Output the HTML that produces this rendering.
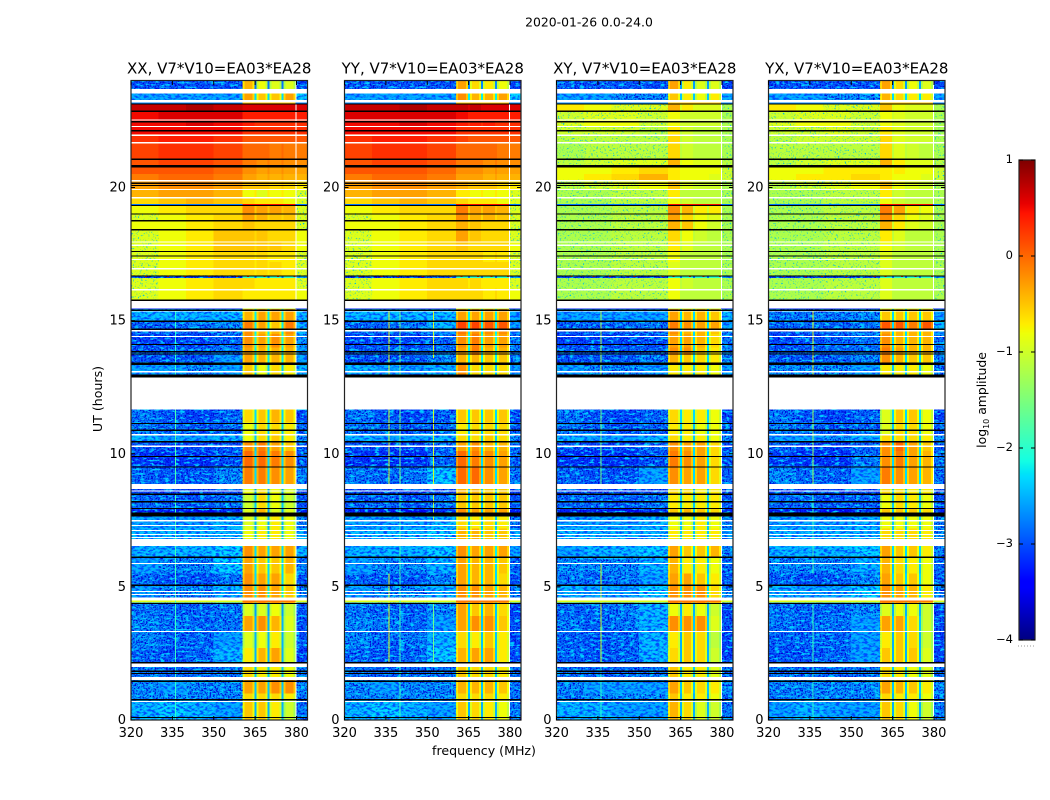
<!DOCTYPE html>
<html>
<head>
<meta charset="utf-8">
<title>2020-01-26 0.0-24.0</title>
<style>
html,body{margin:0;padding:0;background:#fff;width:1050px;height:800px;overflow:hidden}
svg{display:block}
text{font-family:"DejaVu Sans","Liberation Sans",sans-serif;fill:#000}
</style>
</head>
<body>
<svg id="chart" xmlns="http://www.w3.org/2000/svg" width="1050" height="800" viewBox="0 0 1050 800">
  <defs>
    <filter id="darkSpeck" x="0" y="0" width="100%" height="100%" color-interpolation-filters="sRGB">
      <feTurbulence type="fractalNoise" baseFrequency="0.6" numOctaves="2" seed="4" result="n"/>
      <feColorMatrix in="n" type="matrix" values="0 0 0 0 0  0 0 0 0 0  0 0 0 0 0.85  4.5 0 0 0 -2.0" result="c"/>
      <feComposite in="c" in2="SourceAlpha" operator="in"/>
    </filter>
    <filter id="lightSpeck" x="0" y="0" width="100%" height="100%" color-interpolation-filters="sRGB">
      <feTurbulence type="fractalNoise" baseFrequency="0.2 0.45" numOctaves="3" seed="11" result="n"/>
      <feColorMatrix in="n" type="matrix" values="0 0 0 0 0  0 0 0 0 0.8  0 0 0 0 1  5 0 0 0 -2.6" result="c"/>
      <feComposite in="c" in2="SourceAlpha" operator="in"/>
    </filter>
    <filter id="softSpeck" x="0" y="0" width="100%" height="100%" color-interpolation-filters="sRGB">
      <feTurbulence type="fractalNoise" baseFrequency="0.25 0.5" numOctaves="2" seed="21" result="n"/>
      <feColorMatrix in="n" type="matrix" values="0 0 0 0 0  0 0 0 0 0.3  0 0 0 0 1  4.5 0 0 0 -2.0" result="c"/>
      <feComposite in="c" in2="SourceAlpha" operator="in"/>
    </filter>
    <filter id="sparseSpeck" x="0" y="0" width="100%" height="100%" color-interpolation-filters="sRGB">
      <feTurbulence type="fractalNoise" baseFrequency="0.6" numOctaves="2" seed="7" result="n"/>
      <feColorMatrix in="n" type="matrix" values="0 0 0 0 0  0 0 0 0 0.75  0 0 0 0 0.9  6 0 0 0 -3.6" result="c"/>
      <feComposite in="c" in2="SourceAlpha" operator="in"/>
    </filter>
  </defs>
  <text x="589" y="26.5" font-size="12.4" text-anchor="middle">2020-01-26 0.0-24.0</text>
  <text transform="translate(102,399) rotate(-90)" font-size="12.6" text-anchor="middle">UT (hours)</text>
  <text x="484" y="755" font-size="12.6" text-anchor="middle">frequency (MHz)</text>
  <text transform="translate(986,400) rotate(-90)" font-size="12.4" text-anchor="middle">log<tspan font-size="8" dy="3">10</tspan><tspan dy="-3"> amplitude</tspan></text>
  <g id="panels"></g>
  <g id="cbar"></g>
</svg>
<script>
// Time rows (UT hours, top to bottom); each panel has one row of values per span.
const rowEdges = [24,23.53,23.19,22.89,22.56,22.31,22.01,21.7,21.08,20.84,20.5,20.29,19.95,19.64,19.35,19.03,18.77,18.44,17.98,17.62,17.2,16.7,16.6,16.2,15.76,15.46,15,14.7,14.5,14,13.7,13.4,12.95,11.67,11.17,10.72,10.47,10.1,9.53,8.87,8.5,7.97,7.65,7.2,6.53,6.14,5.5,5.09,4.4,3.9,3.34,2.7,2.16,1.5,1,0.79,0];
// Frequency bands in MHz, in the order of each row's values (value index per band).
const bandStart = [320,330,340,350,360.5,365.5,370.2,375.3,380];
const bandEnd   = [330,340,350,360.5,364.7,369.5,374.6,379.7,384];
const bandIndex = [0,1,2,3,4,5,6,7,9];
// Narrow dips between the four bright blocks, MHz; they use a row's 9th value.
const gapStart = [364.7,369.5,374.6];
const gapEnd   = [365.5,370.2,375.3];
// Values: log10 amplitude x 10, as [L1,L2,L3,L4,B1,B2,B3,B4,Gap,Tail].
const xxRows = [
[-29,-29,-29,-29,-4,-8,-9,-9,-20,-30],[-25,-25,-25,-25,-3,-5,-5,-3,-15,-23],[7,7,8,7,6,6,6,6,6,6],[5,6,6,6,4,4,4,4,4,4],[5,5,6,5,4,3,3,3,3,3],[5,5,5,5,3,3,3,3,3,3],[3,4,4,3,1,1,1,1,1,1],[2,3,3,2,0,0,-1,-1,0,-1],[1,2,2,1,-1,-2,-2,-2,-1,-2],[1,1,1,0,-2,-3,-3,-3,-2,-3],[-1,0,0,-1,-3,-4,-4,-4,-3,-4],[-3,-2,-2,-3,-5,-5,-6,-6,-5,-7],[-4,-3,-3,-4,-8,-9,-8,-8,-7,-9],[-6,-5,-4,-5,-6,-7,-7,-8,-7,-9],
[-8,-7,-6,-6,-2,-3,-3,-4,-5,-9],[-9,-8,-7,-6,-3,-4,-5,-5,-6,-9],[-8,-8,-7,-6,-5,-6,-6,-6,-6,-9],[-9,-8,-7,-5,-5,-5,-6,-6,-6,-8],[-9,-8,-7,-5,-5,-5,-5,-6,-6,-8],[-9,-8,-7,-6,-6,-6,-7,-7,-7,-9],[-9,-8,-7,-6,-6,-6,-6,-7,-7,-9],[-30,-30,-30,-30,-20,-20,-20,-20,-20,-25],[-9,-8,-7,-6,-6,-7,-7,-7,-7,-9],[-9,-8,-7,-6,-7,-7,-7,-7,-7,-8],[-28,-28,-28,-28,-28,-28,-28,-28,-28,-28],
[-24,-24,-24,-24,-4,-3,-3,-3,-14,-24],[-28,-28,-27,-26,-1,-3,-5,-1,-14,-24],[-28,-28,-28,-26,-2,-4,-4,-2,-14,-24],[-30,-30,-30,-28,-2,-3,-2,-3,-13,-26],[-28,-28,-28,-27,-3,-4,-4,-4,-14,-25],[-29,-29,-29,-25,-3,-4,-4,-4,-14,-25],[-25,-25,-26,-25,-5,-8,-6,-7,-16,-24],[null,null,null,null,null,null,null,null,null,null],
[-27,-29,-30,-28,-6,-5,-4,-5,-15,-30],[-27,-28,-29,-28,-8,-6,-6,-7,-16,-28],[-24,-25,-25,-24,-8,-6,-5,-7,-16,-26],[-29,-30,-30,-29,-2,-1,-3,-5,-16,-29],[-31,-31,-31,-29,0,0,-1,-2,-15,-29],[-28,-29,-29,-26,-1,-1,-2,-3,-15,-27],[-30,-30,-30,-30,-8,-6,-8,-9,-18,-30],[-28,-28,-29,-27,-10,-6,-8,-10,-16,-29],[-32,-32,-33,-31,-9,-4,-9,-9,-18,-32],[-25,-25,-25,-24,-9,-8,-7,-8,-17,-26],[-24,-24,-24,-24,-8,-7,-7,-8,-16,-24],
[-24,-24,-24,-23,-2,-3,-3,-3,-15,-24],[-25,-26,-26,-23,-3,-5,-5,-4,-15,-27],[-28,-29,-29,-27,-2,-3,-3,-6,-15,-29],[-25,-26,-26,-24,-2,-2,-3,-5,-14,-26],[-27,-28,-28,-27,-9,-9,-8,-10,-18,-29],[-26,-27,-28,-27,-3,-2,-4,-9,-17,-29],[-26,-28,-28,-25,-9,-8,-7,-10,-17,-29],[-28,-29,-28,-24,-7,-4,-3,-9,-17,-30],[-27,-28,-28,-27,-6,-7,-7,-8,-16,-27],[-26,-25,-26,-26,-3,-3,-2,-2,-16,-26],[-26,-26,-26,-26,-6,-6,-6,-7,-17,-27],[-24,-23,-24,-25,-5,-5,-7,-10,-17,-27]
];
const yyRows = [
[-29,-29,-29,-29,-3,-6,-7,-8,-19,-30],[-25,-25,-25,-25,-2,-4,-4,-3,-14,-23],[7,7,8,7,7,7,6,6,6,6],[6,6,6,6,5,4,4,4,4,4],[5,5,6,5,4,4,4,3,3,3],[5,5,5,5,3,3,3,3,3,3],[3,4,4,3,2,1,1,1,1,1],[2,3,3,2,0,0,0,-1,0,-1],[1,2,2,1,-1,-1,-2,-2,-1,-2],[1,1,1,0,-2,-2,-3,-3,-2,-3],[-1,0,0,-1,-3,-3,-4,-4,-3,-4],[-3,-2,-2,-3,-4,-5,-5,-6,-5,-7],[-4,-3,-3,-4,-7,-8,-8,-8,-7,-9],[-6,-5,-4,-5,-6,-7,-7,-8,-7,-9],
[-8,-7,-6,-6,-1,-3,-3,-4,-5,-9],[-9,-8,-7,-6,-2,-4,-4,-5,-6,-9],[-8,-8,-7,-6,-4,-5,-6,-6,-6,-9],[-9,-8,-7,-6,-3,-5,-6,-6,-6,-9],[-9,-8,-7,-6,-5,-6,-6,-6,-6,-8],[-9,-8,-7,-6,-6,-6,-7,-7,-6,-9],[-9,-8,-7,-6,-6,-6,-6,-6,-6,-9],[-30,-30,-30,-30,-20,-20,-20,-20,-20,-25],[-9,-8,-7,-6,-6,-6,-7,-7,-7,-9],[-9,-8,-7,-6,-6,-6,-7,-7,-6,-8],[-28,-28,-28,-28,-28,-28,-28,-28,-28,-28],
[-24,-24,-24,-24,-3,-3,-3,-3,-14,-25],[-28,-28,-27,-24,2,2,1,1,-14,-25],[-28,-28,-28,-25,-1,-2,-2,-2,-14,-25],[-30,-30,-30,-28,-2,-1,-3,-3,-13,-27],[-28,-28,-28,-27,-3,-1,-4,-4,-14,-26],[-29,-29,-29,-26,-4,-4,-5,-5,-14,-26],[-24,-25,-25,-24,-2,-6,-6,-6,-16,-25],[null,null,null,null,null,null,null,null,null,null],
[-27,-29,-30,-28,-5,-5,-5,-5,-15,-30],[-27,-28,-29,-28,-7,-6,-6,-6,-16,-28],[-24,-25,-25,-24,-6,-6,-5,-6,-16,-26],[-29,-30,-30,-28,-3,-2,-4,-4,-15,-28],[-31,-31,-31,-28,0,-1,-2,-3,-15,-28],[-27,-28,-27,-23,0,0,-2,-3,-15,-27],[-30,-30,-30,-30,-4,-4,-5,-5,-16,-30],[-28,-28,-29,-27,-5,-5,-5,-5,-16,-29],[-32,-32,-33,-31,-2,-3,-3,-3,-16,-32],[-25,-25,-25,-24,-6,-7,-6,-7,-16,-26],[-24,-24,-24,-23,-4,-4,-5,-5,-15,-24],
[-24,-24,-24,-23,-2,-3,-3,-3,-14,-25],[-25,-26,-26,-24,-3,-4,-4,-5,-15,-28],[-28,-29,-29,-26,-3,-4,-4,-6,-15,-29],[-25,-26,-26,-24,-2,-2,-3,-4,-14,-27],[-27,-28,-28,-26,-3,-5,-4,-6,-16,-30],[-26,-27,-28,-25,-3,-2,-2,-5,-16,-29],[-26,-28,-27,-24,-6,-7,-5,-7,-16,-30],[-28,-29,-28,-23,-4,-3,-3,-7,-16,-30],[-27,-28,-28,-27,-5,-6,-6,-7,-16,-27],[-26,-25,-26,-26,-4,-4,-4,-5,-16,-27],[-26,-26,-26,-26,-6,-6,-6,-7,-17,-27],[-24,-23,-24,-25,-5,-6,-7,-8,-17,-27]
];
const xyRows = [
[-29,-29,-29,-29,-3,-7,-9,-9,-18,-30],[-25,-25,-26,-26,-5,-7,-8,-7,-16,-25],[-7,-8,-9,-9,-4,-7,-9,-9,-9,-12],[-10,-9,-9,-10,-8,-10,-10,-10,-10,-12],[-9,-8,-8,-10,-8,-10,-10,-10,-10,-12],[-10,-10,-10,-11,-7,-10,-11,-11,-11,-12],[-11,-11,-11,-11,-6,-10,-11,-11,-11,-12],[-12,-11,-11,-11,-6,-10,-11,-11,-11,-12],[-11,-10,-9,-9,-4,-8,-9,-9,-9,-11],[-8,-8,-7,-6,-7,-8,-8,-8,-8,-10],[-8,-7,-6,-4,-7,-8,-8,-9,-8,-10],[-11,-10,-9,-8,-5,-9,-10,-10,-10,-12],[-12,-12,-11,-11,-7,-11,-11,-11,-11,-12],[-12,-12,-11,-11,-8,-10,-11,-11,-11,-12],
[-12,-12,-11,-11,-2,-4,-7,-7,-10,-12],[-12,-12,-11,-11,-3,-6,-8,-9,-10,-12],[-12,-12,-11,-11,-4,-5,-8,-10,-10,-12],[-12,-12,-11,-11,-6,-8,-10,-11,-11,-12],[-12,-12,-11,-11,-7,-9,-11,-11,-11,-12],[-12,-12,-11,-11,-8,-11,-11,-11,-11,-12],[-12,-12,-11,-11,-9,-11,-11,-11,-11,-12],[-30,-30,-30,-30,-20,-20,-20,-20,-20,-25],[-12,-12,-11,-11,-8,-10,-11,-11,-11,-12],[-12,-12,-11,-11,-8,-11,-11,-11,-11,-12],[-28,-28,-28,-28,-28,-28,-28,-28,-28,-28],
[-25,-25,-25,-25,-3,-4,-4,-5,-15,-24],[-28,-28,-28,-27,-1,-2,-3,-3,-15,-25],[-29,-28,-28,-27,-2,-4,-4,-5,-15,-26],[-30,-30,-30,-29,-3,-3,-4,-6,-15,-27],[-28,-28,-28,-28,-2,-2,-5,-7,-15,-26],[-29,-29,-29,-27,-4,-5,-6,-7,-15,-26],[-25,-26,-26,-25,-7,-7,-7,-8,-16,-25],[null,null,null,null,null,null,null,null,null,null],
[-27,-29,-30,-28,-6,-7,-7,-8,-15,-30],[-27,-28,-29,-28,-7,-7,-8,-8,-16,-28],[-24,-25,-25,-24,-6,-7,-7,-8,-16,-26],[-29,-30,-30,-28,-2,-3,-3,-6,-15,-29],[-31,-31,-31,-29,-1,-2,-3,-6,-15,-29],[-28,-29,-29,-25,-2,-3,-3,-6,-15,-28],[-30,-30,-30,-30,-6,-6,-7,-7,-17,-30],[-28,-28,-29,-27,-7,-7,-7,-7,-16,-29],[-32,-32,-33,-31,-5,-4,-5,-6,-16,-32],[-25,-25,-25,-24,-8,-8,-7,-8,-16,-26],[-24,-24,-24,-24,-7,-7,-7,-7,-16,-25],
[-25,-24,-24,-23,-3,-5,-5,-4,-15,-26],[-26,-26,-26,-24,-4,-7,-7,-8,-16,-28],[-27,-28,-27,-25,-3,-3,-5,-7,-15,-29],[-24,-25,-25,-23,-2,-2,-2,-6,-15,-26],[-28,-28,-27,-24,-8,-7,-8,-10,-17,-30],[-27,-28,-27,-24,-2,-2,-2,-9,-16,-29],[-28,-29,-28,-24,-7,-5,-6,-11,-17,-30],[-28,-29,-28,-24,-6,-5,-6,-10,-17,-30],[-27,-28,-28,-27,-5,-7,-7,-9,-16,-27],[-26,-25,-25,-25,-3,-5,-6,-7,-16,-26],[-27,-26,-26,-26,-5,-7,-7,-8,-17,-27],[-24,-24,-25,-25,-4,-6,-9,-10,-17,-27]
];
const yxRows = [
[-29,-29,-29,-29,-3,-6,-8,-9,-18,-30],[-25,-25,-26,-26,-4,-6,-7,-7,-15,-25],[-7,-8,-9,-9,-5,-8,-9,-9,-9,-12],[-10,-9,-9,-10,-8,-9,-10,-10,-10,-12],[-9,-8,-8,-10,-8,-9,-10,-10,-10,-12],[-10,-10,-9,-10,-7,-9,-10,-10,-10,-12],[-11,-10,-10,-10,-6,-9,-10,-10,-10,-12],[-11,-11,-11,-11,-6,-9,-10,-11,-11,-12],[-11,-10,-9,-9,-4,-7,-9,-9,-9,-11],[-8,-8,-7,-7,-7,-7,-8,-8,-8,-10],[-8,-7,-7,-6,-7,-8,-8,-9,-8,-10],[-11,-10,-9,-8,-5,-8,-9,-10,-10,-12],[-12,-12,-11,-11,-7,-10,-11,-11,-11,-12],[-12,-12,-11,-11,-8,-10,-11,-11,-11,-12],
[-12,-12,-11,-11,-1,-3,-7,-8,-10,-12],[-12,-12,-11,-11,-2,-6,-8,-9,-10,-12],[-12,-12,-11,-11,-4,-7,-9,-10,-10,-12],[-12,-12,-11,-11,-7,-9,-11,-11,-11,-12],[-12,-12,-11,-11,-8,-10,-11,-11,-11,-12],[-12,-12,-11,-11,-9,-11,-11,-11,-11,-12],[-12,-12,-11,-11,-9,-11,-11,-11,-11,-12],[-30,-30,-30,-30,-20,-20,-20,-20,-20,-25],[-12,-12,-11,-11,-9,-11,-11,-11,-11,-12],[-12,-12,-11,-11,-9,-11,-11,-11,-11,-12],[-28,-28,-28,-28,-28,-28,-28,-28,-28,-28],
[-27,-27,-27,-26,-5,-5,-5,-5,-15,-25],[-28,-28,-28,-27,1,1,-1,1,-15,-24],[-29,-28,-28,-27,-3,-4,-4,-4,-15,-25],[-30,-29,-28,-27,-2,-4,-4,-4,-15,-27],[-28,-28,-28,-27,-1,-3,-4,-4,-15,-26],[-29,-29,-28,-26,-2,-4,-5,-5,-15,-26],[-26,-26,-26,-25,-7,-7,-7,-8,-16,-26],[null,null,null,null,null,null,null,null,null,null],
[-27,-29,-30,-28,-9,-5,-5,-8,-15,-30],[-26,-28,-29,-28,-9,-6,-6,-8,-16,-28],[-25,-25,-26,-24,-6,-6,-6,-7,-16,-26],[-28,-30,-30,-28,-2,0,-3,-5,-15,-28],[-30,-31,-31,-27,-2,-1,-3,-4,-15,-27],[-26,-28,-28,-25,-1,-2,-3,-4,-15,-27],[-30,-30,-30,-30,-6,-6,-7,-7,-16,-30],[-28,-28,-29,-28,-8,-6,-7,-8,-16,-29],[-32,-32,-33,-31,-5,-5,-5,-6,-16,-32],[-25,-25,-25,-24,-8,-8,-8,-8,-16,-26],[-24,-24,-24,-24,-6,-6,-6,-7,-16,-26],
[-24,-24,-24,-23,-3,-5,-5,-7,-15,-26],[-26,-26,-26,-24,-4,-6,-7,-8,-16,-28],[-28,-29,-28,-26,-3,-5,-5,-8,-15,-29],[-24,-25,-25,-23,-2,-3,-4,-7,-15,-26],[-27,-28,-28,-26,-9,-8,-8,-10,-17,-30],[-27,-28,-27,-25,-3,-3,-6,-10,-16,-29],[-28,-28,-28,-25,-7,-5,-6,-10,-17,-30],[-29,-29,-28,-25,-5,-5,-5,-9,-17,-30],[-27,-28,-28,-27,-6,-7,-8,-9,-16,-27],[-26,-26,-26,-26,-3,-4,-5,-7,-16,-26],[-27,-26,-26,-26,-6,-7,-7,-8,-17,-27],[-25,-24,-25,-25,-5,-6,-8,-10,-17,-27]
];
// Thin strips with a distinct level: top hour, bottom hour, background and block log10 amplitude.
const stripTops    = [23.19,19.38,15.49,4.48];
const stripBottoms = [23.15,19.3,15.43,4.41];
const stripLows    = [-2.7,-2.8,-3.2,-0.9];
const stripBlocks  = [-0.5,0.5,-1,-0.1];
// Isolated hot channels on the 16.65 h strip, MHz.
const hotChannels = [325,333,339,348,358,362,368,373,379];
const hotHour = 16.68;
const hotLevel = 0.4;
// Flagged (white) spans in UT hours: tops and bottoms.
const flagTops    = [23.7,23.28,22.56,22.31,22,21.7,20.29,19.95,19.64,17.98,17.86,17.32,16.97,16.18,15.76,15.39,14.64,14.43,13.39,13.11,12.93,10.74,10.31,8.87,8.62,7.51,7.33,7.14,6.99,6.88,6.79,5.9,4.85,4.74,4.6,3.35,2.12,1.61,0.72];
const flagBottoms = [23.53,23.19,22.52,22.27,21.94,21.66,20.22,19.9,19.59,17.93,17.81,17.27,16.92,16.13,15.46,15.34,14.59,14.38,13.34,13.06,11.67,10.69,10.26,8.67,8.58,7.46,7.28,7.09,6.94,6.83,6.53,5.85,4.8,4.69,4.48,3.3,2,1.5,0.67];
// Black separator lines in UT hours, and how many hours each covers.
const blackHours = [23.16,22.89,22.5,22.16,21.08,20.85,20.19,20.1,19.35,19.03,18.77,18.44,17.62,17.45,16.7,15.79,15.42,15,14.7,14.13,13.86,13.77,13.42,12.97,11.16,10.91,10.47,9.92,9.53,8.5,8.22,7.97,7.79,6.14,5.09,4.4,2.17,1.86,1.77,1.48,0.79,0.12];
const blackSpans = [0.05,0.05,0.05,0.05,0.05,0.09,0.05,0.05,0.05,0.05,0.05,0.05,0.05,0.05,0.05,0.05,0.05,0.05,0.05,0.05,0.05,0.05,0.08,0.1,0.05,0.05,0.05,0.05,0.05,0.05,0.05,0.05,0.14,0.05,0.05,0.05,0.05,0.05,0.05,0.05,0.05,0.05];
// Narrow RFI channels per panel: MHz, top hour, bottom hour, log10 amplitude.
const xxRfi = [[336,15.4,12.95,-2],[336,11.67,8.87,-1.8],[336,8.5,2.16,-1.9],[336,2,0,-2]];
const yyRfi = [[336,15.4,12.95,-0.9],[336,11.67,8.87,-1],[336,5.5,2.16,-0.9],[340,15.4,12.95,-1.6],[340,11.67,8.87,-1.6],[340,8.5,0,-1.9],[352,15.4,13.6,-1],[352,11.67,8.87,-1],[352,8.5,7.5,-1.2],[352,4.4,2.16,-1.6]];
const xyRfi = [[336,15.4,12.95,-1.2],[336,11.67,8.87,-1.6],[336,5.9,2.16,-1],[336,2,0,-2]];
const yxRfi = [[336,15.4,12.95,-0.9],[336,11.67,8.87,-1.3],[336,8.5,5.5,-1.9],[336,4.4,2.16,-1.9],[336,2,0,-2]];
// Panels
const panelTitles = ["XX, V7*V10=EA03*EA28","YY, V7*V10=EA03*EA28","XY, V7*V10=EA03*EA28","YX, V7*V10=EA03*EA28"];
const panelRows = [xxRows,yyRows,xyRows,yxRows];
const panelRfi = [xxRfi,yyRfi,xyRfi,yxRfi];
const freqTicks = [320,335,350,365,380];
const hourTicks = [0,5,10,15,20];
const colorbarTicks = [1,0,-1,-2,-3,-4];
const colorbarTickLabels = ["1","0","\u22121","\u22122","\u22123","\u22124"];

const SVGNS = "http://www.w3.org/2000/svg";
const panelLefts = [131,344.5,556.5,768.5];
const panelWidth = 176.5;
const plotTop = 81, plotBottom = 720;
const yOf = h => plotBottom - h * (plotBottom - plotTop) / 24;
const xOf = (left, mhz) => left + (mhz - 320) * panelWidth / 64;

function interp(pts, t) {
  for (let i = 1; i < pts.length; i++) {
    if (t <= pts[i][0]) {
      const a = pts[i - 1], b = pts[i];
      return a[1] + (b[1] - a[1]) * (t - a[0]) / (b[0] - a[0]);
    }
  }
  return pts[pts.length - 1][1];
}
const jetR = [[0,0],[.35,0],[.66,1],[.89,1],[1,.5]];
const jetG = [[0,0],[.125,0],[.375,1],[.64,1],[.91,0],[1,0]];
const jetB = [[0,.5],[.11,1],[.34,1],[.65,0],[1,0]];
function jet(v) {
  const t = Math.max(0, Math.min(1, (v + 4) / 5));
  return "rgb(" + Math.round(255 * interp(jetR, t)) + "," + Math.round(255 * interp(jetG, t)) + "," + Math.round(255 * interp(jetB, t)) + ")";
}
function mk(tag, attrs, parent) {
  const el = document.createElementNS(SVGNS, tag);
  for (const k in attrs) el.setAttribute(k, attrs[k]);
  parent.appendChild(el);
  return el;
}
function cell(parent, x0, x1, y0, y1, v) {
  const r = mk("rect", {x: x0, y: y0, width: x1 - x0, height: y1 - y0, fill: jet(v), "shape-rendering": "crispEdges"}, parent);
  
  
  return r;
}
function speckGroup(g, boxes, fid) {
  const sg = mk("g", {filter: "url(#" + fid + ")"}, g);
  
  
  boxes.forEach(s => {
    mk("rect", {x: s[0], y: s[2], width: s[1] - s[0], height: s[3] - s[2], fill: "#fff"}, sg);
  });
}

const panelsG = document.getElementById("panels");
panelTitles.forEach((title, p) => {
  const left = panelLefts[p], right = left + panelWidth;
  const rows = panelRows[p];
  const g = mk("g", {}, panelsG);
  
  
  const strongBoxes = [], softBoxes = [], sparseBoxes = [];
  rows.forEach((vals, r) => {
    if (vals[0] === null) return;
    const y0 = yOf(rowEdges[r]), y1 = yOf(rowEdges[r + 1]);
    bandStart.forEach((mhz, b) => {
      const raw = vals[bandIndex[b]];
      const v = raw / 10;
      const x0 = xOf(left, mhz), x1 = xOf(left, bandEnd[b]);
      cell(g, x0, x1, y0, y1, v);
      // bright blocks roll off toward yellow at their edges when above the background
      if (b >= 4 && b <= 7) {
        if (v - vals[3] / 10 > 1) {
          cell(g, x0, x0 + 2, y0, y1, v - 0.3);
          cell(g, x1 - 2, x1, y0, y1, v - 0.3);
        }
      } else if (raw < -25) {
        strongBoxes.push([x0, x1, y0, y1]);
      } else if (raw < -20) {
        softBoxes.push([x0, x1, y0, y1]);
      } else if (raw <= -9 && raw > -15) {
        sparseBoxes.push([x0, x1, y0, y1]);
      }
    });
    gapStart.forEach((mhz, b) => {
      const gv = vals[8] / 10;
      cell(g, xOf(left, mhz), xOf(left, gapEnd[b]), y0, y1, gv < -1.2 ? gv - 0.8 : gv);
    });
  });
  speckGroup(g, strongBoxes, "darkSpeck");
  speckGroup(g, strongBoxes, "lightSpeck");
  speckGroup(g, softBoxes, "softSpeck");
  speckGroup(g, sparseBoxes, "sparseSpeck");
  stripTops.forEach((h, i) => {
    cell(g, left, xOf(left, 360.5), yOf(h), yOf(stripBottoms[i]), stripLows[i]);
    cell(g, xOf(left, 360.5), xOf(left, 379.7), yOf(h), yOf(stripBottoms[i]), stripBlocks[i]);
    cell(g, xOf(left, 379.7), right, yOf(h), yOf(stripBottoms[i]), stripLows[i]);
  });
  hotChannels.forEach(mhz => {
    cell(g, xOf(left, mhz), xOf(left, mhz) + 2, yOf(hotHour), yOf(hotHour) + 1, hotLevel);
  });
  panelRfi[p].forEach(d => {
    const l = mk("rect", {x: xOf(left, d[0]), y: yOf(d[1]), width: 1, height: yOf(d[2]) - yOf(d[1]), fill: jet(d[3]), "shape-rendering": "crispEdges"}, g);
    
    
  });
  flagTops.forEach((h, i) => {
    const f = mk("rect", {x: left, y: yOf(h), width: panelWidth, height: yOf(flagBottoms[i]) - yOf(h), fill: "#fff", "shape-rendering": "crispEdges"}, g);
    
    
  });
  blackHours.forEach((h, i) => {
    const f = mk("rect", {x: left, y: yOf(h), width: panelWidth, height: blackSpans[i] * (plotBottom - plotTop) / 24, fill: "#000", "shape-rendering": "crispEdges"}, g);
    
    
  });
  const frame = mk("rect", {x: left, y: plotTop - 0.5, width: panelWidth, height: plotBottom - plotTop + 0.5, fill: "none", stroke: "#222", "stroke-width": 1.2}, g);
  
  
  const t = mk("text", {x: left + panelWidth / 2, y: 73.5, "font-size": 15, "text-anchor": "middle"}, g);
  
  
  t.textContent = title;
  freqTicks.forEach(f => {
    const x = xOf(left, f);
    [[plotBottom, plotBottom - 4], [plotTop, plotTop + 4]].forEach(e => {
      const k = mk("line", {x1: x, x2: x, y1: e[0], y2: e[1], stroke: "#000", "stroke-width": 1}, g);
      
      
    });
    const lb = mk("text", {x: x, y: 737, "font-size": 13, "text-anchor": "middle"}, g);
    
    
    lb.textContent = f;
  });
  hourTicks.forEach(h => {
    const y = yOf(h);
    [[left, left + 4], [right, right - 4]].forEach(e => {
      const k = mk("line", {x1: e[0], x2: e[1], y1: y, y2: y, stroke: "#000", "stroke-width": 1}, g);
      
      
    });
    const lb = mk("text", {x: left - 5, y: y + 4, "font-size": 13, "text-anchor": "end"}, g);
    
    
    lb.textContent = h;
  });
});

// Colorbar
const cb = document.getElementById("cbar");
const cbLeft = 1019, cbRight = 1035, cbTop = 160, cbBottom = 640;
const cbY = v => cbBottom - (v + 4) * (cbBottom - cbTop) / 5;
for (let i = 0; i < 240; i++) {
  const v0 = -4 + i * 5 / 240, v1 = -4 + (i + 1) * 5 / 240;
  const s = mk("rect", {x: cbLeft, y: cbY(v1), width: cbRight - cbLeft, height: cbY(v0) - cbY(v1) + 0.5, fill: jet((v0 + v1) / 2), "shape-rendering": "crispEdges"}, cb);
  
  
}
const cbFrame = mk("rect", {x: cbLeft, y: cbTop, width: cbRight - cbLeft, height: cbBottom - cbTop, fill: "none", stroke: "#222", "stroke-width": 1.2}, cb);


colorbarTicks.forEach((v, i) => {
  const y = cbY(v);
  [[cbLeft, cbLeft + 4], [cbRight, cbRight - 4]].forEach(e => {
    const k = mk("line", {x1: e[0], x2: e[1], y1: y, y2: y, stroke: "#000", "stroke-width": 1}, cb);
    
    
  });
  const lb = mk("text", {x: cbLeft - 6, y: y + 3, "font-size": 11.5, "text-anchor": "end"}, cb);
  
  
  lb.textContent = colorbarTickLabels[i];
});
const dots = mk("line", {x1: 1018, x2: 1035, y1: 646, y2: 646, stroke: "#999", "stroke-width": 1, "stroke-dasharray": "1 2"}, cb);


</script>
</body>
</html>
